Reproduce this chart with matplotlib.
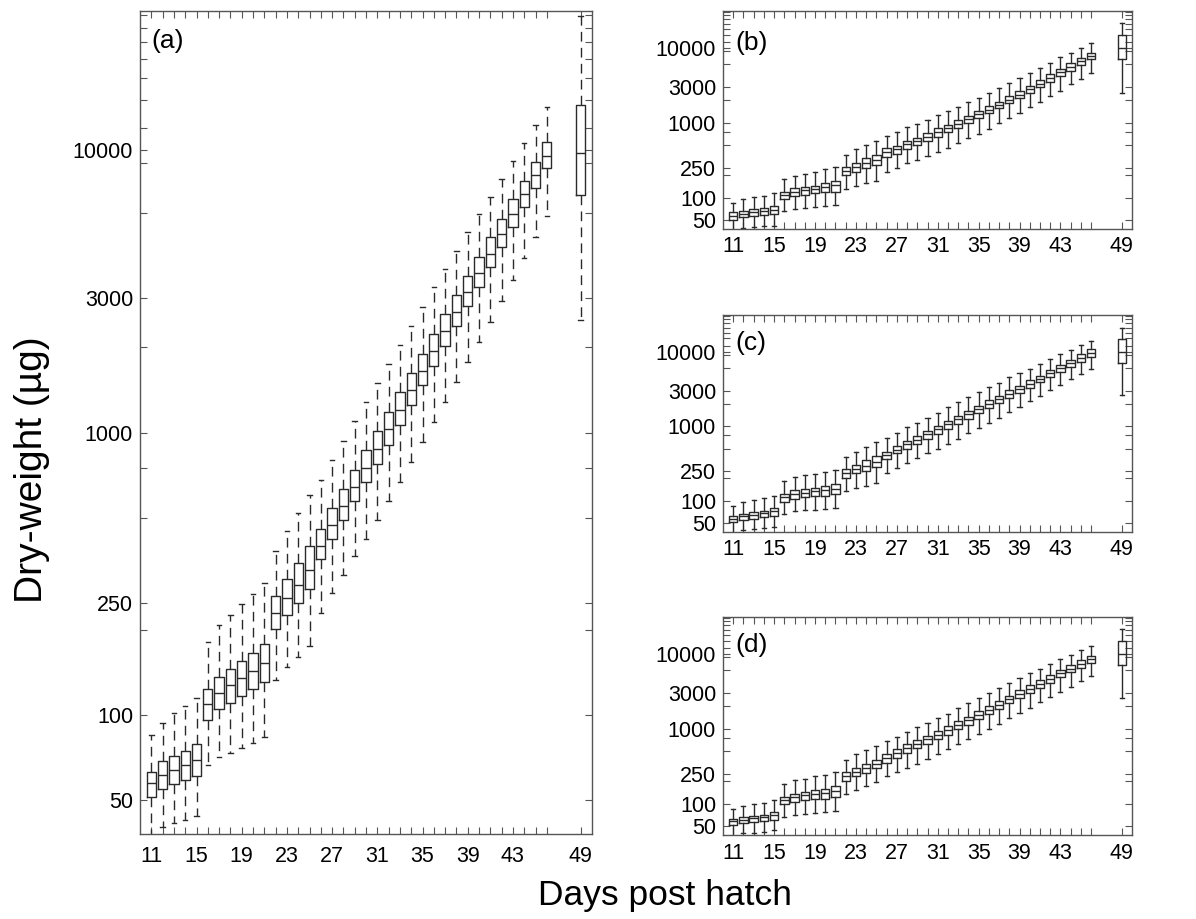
import matplotlib
matplotlib.use('Agg')
import matplotlib.pyplot as plt
from matplotlib.ticker import FixedLocator, FixedFormatter, NullFormatter

plt.rcParams['font.family'] = ['Liberation Sans', 'DejaVu Sans']

# ---------------- data ----------------
days = list(range(11, 47)) + [49]
label_days = [11, 15, 19, 23, 27, 31, 35, 39, 43, 49]
y_major = [50, 100, 250, 1000, 3000, 10000]
y_minor = [200, 500, 750, 2000, 6000, 9000, 12000, 15000, 18000, 21000, 24000, 27000, 30000]

# panel (a)
a_hi = [85, 94, 102, 108, 115, 182, 209, 227, 247, 269, 293, 381, 447, 519, 600, 677, 801, 937, 1096, 1284,
        1502, 1743, 2041, 2375, 2781, 3262, 3789, 4406, 5118, 5927, 6840, 7900, 9168, 10612, 12254, 14154, 29830]
a_q3 = [63.2, 68.6, 71.8, 75.0, 79.4, 123.9, 136.6, 145.4, 155.5, 166.6, 178.6, 263.9, 304.1, 346.4, 397.8, 456.8,
        542, 632.5, 740, 866, 1014, 1183, 1392, 1626, 1902, 2225, 2618, 3066, 3588, 4187, 4899, 5718, 6696, 7771,
        9093, 10646, 14460]
a_med = [57.5, 61.5, 64.1, 66.9, 69.3, 110.0, 120.3, 127.6, 135.1, 143.9, 153.5, 229.3, 260.4, 288.7, 327.2, 396.5,
         471.9, 549.1, 642.7, 750, 878, 1030, 1206, 1418, 1656, 1938, 2280, 2670, 3142, 3667, 4290, 5048, 5927, 6975,
         8140, 9548, 9783]
a_q1 = [51.2, 54.9, 56.9, 59.1, 61.0, 95.8, 105.0, 110.5, 116.7, 123.6, 130.8, 201.3, 226.1, 250.1, 280.3, 357.8,
        421.1, 489.8, 570.5, 665.9, 777, 907, 1067, 1256, 1478, 1725, 2029, 2375, 2795, 3272, 3838, 4530, 5331, 6272,
        7322, 8617, 6950]
a_lo = [37, 40.1, 41.4, 42.7, 44.0, 66.7, 71.2, 73.6, 76.4, 79.6, 83.6, 133.3, 148.2, 161.2, 176.3, 230.6, 271.3,
        313.2, 364.6, 419.8, 489.8, 570.5, 666, 788, 924, 1087, 1287, 1511, 1772, 2091, 2461, 2927, 3472, 4129, 4899,
        5844, 2493]

# panel (b)
b_hi = [85.2, 94.4, 100.4, 104.6, 113.5, 176.4, 195.4, 207.8, 221.1, 237.5, 252.6, 369, 439.3, 501.7, 561.5, 668.5,
        748.2, 863.8, 966.7, 1093, 1249, 1427, 1630, 1862, 2150, 2507, 2865, 3342, 3897, 4543, 5297, 6303, 7430,
        8575, 10000, 11427, 21130]
b_q3 = [63.3, 66.6, 69.4, 72.3, 76.1, 119.5, 132.4, 137.9, 143.7, 157.6, 164.2, 257.8, 285.6, 336.4, 372.7, 452.9,
        491.6, 567.3, 628.5, 718.2, 837.5, 937.6, 1082, 1237, 1427, 1664, 1901, 2240, 2666, 3110, 3701, 4405, 5190,
        6178, 7354, 8575, 14760]
b_med = [56.6, 60.8, 63.3, 66.0, 68.0, 107.9, 117.1, 124.5, 129.7, 139.3, 145.2, 228, 255.2, 285.6, 316.4, 400.6,
         443.6, 512.1, 567.3, 648.1, 741.0, 846.2, 966.7, 1104, 1288, 1487, 1734, 2021, 2358, 2778, 3307, 3936, 4686,
         5518, 6637, 7740, 10000]
b_q1 = [50.0, 54.9, 56.6, 58.3, 60.2, 95.4, 104.6, 107.9, 113.5, 119.5, 119.5, 197.4, 218.8, 247.4, 271.4, 350.5,
        384.4, 443.6, 501.7, 561.5, 641.5, 741.0, 846.2, 976.8, 1139, 1328, 1549, 1806, 2106, 2481, 2954, 3480, 4144,
        4931, 5929, 6987, 6987]
b_lo = [37, 39.5, 39.9, 41.6, 42.0, 66.6, 69.4, 71.6, 73.8, 76.1, 79.3, 129.7, 143.7, 154.4, 166.0, 221.1, 250.0,
        285.6, 316.4, 357.8, 408.9, 462.3, 528.1, 622.1, 703.6, 820.5, 976.8, 1139, 1328, 1598, 1901, 2263, 2666,
        3239, 3817, 4636, 2456]

# panel (c)
c_hi = [85.3, 95.6, 101.6, 108.1, 116.2, 182.8, 206.7, 219.9, 229.1, 246.3, 259.3, 391.4, 456.6, 532.8, 609.0, 703.5,
        820.6, 967.6, 1117, 1303, 1522, 1794, 2094, 2443, 2850, 3326, 3842, 4528, 5125, 5917, 6904, 7976, 9211,
        10637, 12410, 14045, 20970]
c_q3 = [61.4, 66.0, 69.5, 73.1, 79.4, 123.6, 137.0, 142.8, 148.8, 155.1, 164.9, 264.7, 305.7, 353.0, 403.6, 456.6,
        538.3, 634.6, 748.2, 873.0, 1019, 1189, 1387, 1619, 1888, 2227, 2571, 3064, 3465, 4171, 4718, 5620, 6628,
        7650, 9211, 10747, 14630]
c_med = [56.6, 61.4, 64.6, 67.4, 71.6, 111.5, 122.4, 127.4, 132.8, 137.0, 142.8, 238.8, 267.4, 296.4, 328.5, 411.9,
         480.7, 572.6, 661.3, 779.5, 909.7, 1061, 1239, 1445, 1704, 1988, 2320, 2735, 3127, 3724, 4301, 5125, 5977,
         6976, 8309, 9696, 10000]
c_q1 = [51.6, 55.4, 57.1, 59.5, 62.7, 96.6, 105.9, 111.5, 113.8, 116.2, 121.1, 202.6, 233.9, 251.4, 281.5, 360.3,
        433.7, 495.7, 578.5, 675.0, 779.5, 919.1, 1072, 1264, 1490, 1739, 2050, 2417, 2763, 3292, 3880, 4575, 5284,
        6292, 7345, 8570, 7120]
c_lo = [37, 40.7, 41.5, 42.4, 43.7, 66.7, 71.6, 73.9, 75.4, 77.0, 78.6, 134.2, 148.8, 158.3, 171.8, 233.9, 272.9,
        318.6, 371.6, 433.7, 495.7, 578.5, 682, 803.9, 938.3, 1106, 1303, 1537, 1831, 2182, 2545, 3064, 3574, 4257,
        4968, 5855, 2625]

# panel (d)
d_hi = [85.3, 92.7, 97.6, 102.7, 112.6, 184.6, 204.6, 215.4, 231.5, 243.8, 264.7, 387.3, 451.9, 511.4, 590.7, 689.1,
        779.5, 891.3, 1040, 1177, 1373, 1585, 1869, 2182, 2545, 3000, 3465, 4044, 4718, 5506, 6292, 7345, 8483,
        9696, 11084, 12540, 21410]
d_q3 = [62.0, 65.3, 68.1, 70.9, 77.0, 122.4, 135.6, 142.8, 151.9, 155.1, 170.1, 264.7, 299.5, 342.3, 387.3, 451.9,
        527.3, 615.2, 703.5, 803.9, 928.6, 1072, 1252, 1445, 1704, 1988, 2344, 2735, 3292, 3802, 4482, 5176, 6102,
        7048, 8140, 9401, 14630]
d_med = [57.7, 60.8, 63.3, 65.3, 70.2, 110.4, 122.4, 128.8, 134.2, 138.4, 145.7, 233.9, 264.7, 299.5, 342.3, 399.5,
         466.3, 549.4, 628.1, 717.9, 829.1, 957.7, 1117, 1303, 1522, 1794, 2094, 2468, 2910, 3395, 4003, 4670, 5506,
         6358, 7345, 8570, 10020]
d_q1 = [52.1, 55.4, 57.1, 58.3, 60.8, 97.6, 103.8, 110.4, 113.8, 116.2, 122.4, 200.5, 231.5, 259.3, 299.5, 353.0,
        411.9, 475.9, 549.4, 621.6, 725.3, 829.1, 977.7, 1129, 1331, 1569, 1831, 2182, 2545, 3000, 3538, 4128, 4866,
        5677, 6558, 7650, 7120]
d_lo = [37, 40.3, 40.7, 42.0, 43.7, 66.0, 70.2, 72.4, 73.9, 76.2, 79.4, 135.6, 150.3, 170.1, 192.4, 231.5, 264.7,
        299.5, 342.3, 391.4, 456.6, 527.3, 615.2, 717.9, 838, 987.7, 1164, 1373, 1602, 1888, 2250, 2625, 3095, 3648,
        4346, 5125, 2545]

# ---------------- figure ----------------
W, H = 1196, 919
fig = plt.figure(figsize=(W / 100, H / 100), dpi=100)

LINE = '#2a2a2a'
SPINE = '#555555'


def px_axes(x0, y0, x1, y1):
    return fig.add_axes([x0 / W, 1 - y1 / H, (x1 - x0) / W, (y1 - y0) / H])


def draw(ax, lo, q1, med, q3, hi, dashed, label, lab_xy, xpad):
    stats = [dict(whislo=l, q1=a, med=m, q3=b, whishi=h, fliers=[])
             for l, a, m, b, h in zip(lo, q1, med, q3, hi)]
    lw = 1.0
    ls = (0, (7, 4.5)) if dashed else '-'
    ax.bxp(stats, positions=days, widths=0.82, capwidths=0.4, showfliers=False,
           manage_ticks=False,
           boxprops=dict(color=LINE, linewidth=lw),
           whiskerprops=dict(color=LINE, linewidth=lw, linestyle=ls),
           capprops=dict(color=LINE, linewidth=lw),
           medianprops=dict(color=LINE, linewidth=lw))
    ax.set_yscale('log')
    ax.set_ylim(38, 31000)
    ax.set_xlim(10, 50)
    ax.yaxis.set_major_locator(FixedLocator(y_major))
    ax.yaxis.set_major_formatter(FixedFormatter([str(v) for v in y_major]))
    ax.yaxis.set_minor_locator(FixedLocator(y_minor))
    ax.yaxis.set_minor_formatter(NullFormatter())
    ax.xaxis.set_major_locator(FixedLocator(days))
    ax.xaxis.set_major_formatter(FixedFormatter([str(d) if d in label_days else '' for d in days]))
    ax.tick_params(which='both', direction='in', top=True, right=True, length=5,
                   width=0.8, color=SPINE, labelsize=15.5)
    ax.tick_params(axis='x', pad=xpad)
    ax.tick_params(axis='y', pad=5)
    for s in ax.spines.values():
        s.set_color(SPINE)
        s.set_linewidth(1.0)
    ax.text(lab_xy[0], lab_xy[1], label, transform=ax.transAxes, fontsize=19,
            ha='left', va='center')


ax_a = px_axes(140, 11, 592, 834)
draw(ax_a, a_lo, a_q1, a_med, a_q3, a_hi, True, '(a)', (0.026, 0.964), 9)

ax_b = px_axes(723, 11, 1132, 229)
draw(ax_b, b_lo, b_q1, b_med, b_q3, b_hi, False, '(b)', (0.03, 0.855), 5)

ax_c = px_axes(723, 315, 1132, 532)
draw(ax_c, c_lo, c_q1, c_med, c_q3, c_hi, False, '(c)', (0.03, 0.87), 5)

ax_d = px_axes(723, 617, 1132, 835)
draw(ax_d, d_lo, d_q1, d_med, d_q3, d_hi, False, '(d)', (0.03, 0.87), 6)

fig.text(32 / W, 1 - 470 / H, 'Dry-weight (µg)', rotation=90, fontsize=28,
         ha='center', va='center')
fig.text(665 / W, 1 - 896 / H, 'Days post hatch', fontsize=25.5,
         ha='center', va='center')

fig.savefig('out.png', dpi=100)
